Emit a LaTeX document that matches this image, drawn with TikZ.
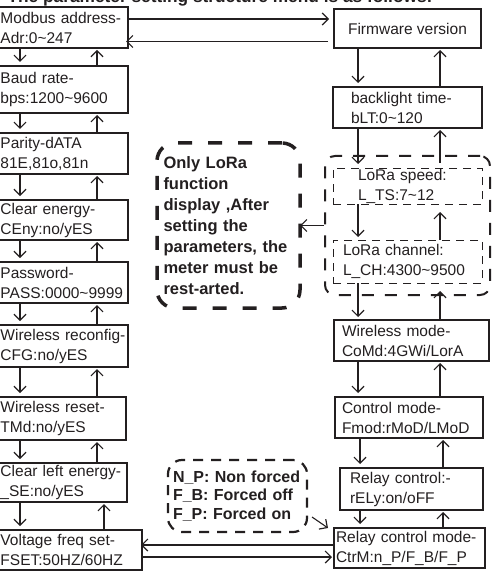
\documentclass[tikz,border=0pt]{standalone}
\usepackage{fontspec}
\setmainfont{Liberation Sans}
\usepackage{xcolor}
\usetikzlibrary{positioning, arrows.meta, fit, calc}
\definecolor{inkcolor}{RGB}{35,31,32}

\begin{document}
\begin{tikzpicture}[
    x=1pt, y=-1pt,
    font=\fontsize{15.5}{20}\selectfont,
    color=inkcolor,
    arrow/.style={-{Straight Barb[length=6pt,width=12pt,line width=1.2pt]}, line width=1.1pt},
    menubox/.style={
        draw,
        rectangle,
        line width=1.2pt,
        inner ysep=0pt,
        outer sep=0pt,
        align=left
    },
    leftbox/.style={menubox, text width=124pt, inner xsep=3.5pt},
    lorabox/.style={menubox, line width=0.9pt, dash pattern=on 8pt off 6pt},
    notebox/.style={
        rectangle,
        outer sep=0pt,
        inner ysep=0pt,
        align=left,
        font=\bfseries\fontsize{16.5}{21}\selectfont
    }
]

\useasboundingbox (0,0) rectangle (491,572);

% Title (cut off at the top)
\node (title) [anchor=base west, font=\bfseries\fontsize{17.3}{20}\selectfont] at (4,3)
    {The parameter setting structure menu is as follows:};

%% LEFT COLUMN %%
\node (adr) [leftbox, anchor=north west, minimum height=41pt] at (-3,7)
    {Modbus address-\\Adr:0\textasciitilde247};
\node (bps) [leftbox, below=18pt of adr, minimum height=47pt]
    {Baud rate-\\bps:1200\textasciitilde9600};
\node (par) [leftbox, below=20pt of bps, minimum height=41pt]
    {Parity-dATA\\81E,81o,81n};
\node (ceny) [leftbox, below=26pt of par, minimum height=40pt]
    {Clear energy-\\CEny:no/yES};
\node (pass) [leftbox, below=22pt of ceny, minimum height=41pt]
    {Password-\\PASS:0000\textasciitilde9999};
\node (rcfg) [leftbox, below=22pt of pass, minimum height=42pt]
    {\mbox{Wireless reconfig-}\\CFG:no/yES};
\node (rtmd) [leftbox, below=30pt of rcfg.south west, anchor=north west, minimum height=43pt, text width=122pt]
    {Wireless reset-\\TMd:no/yES};
\node (lse) [leftbox, below=23pt of rtmd.south west, anchor=north west, minimum height=39pt, text width=123pt]
    {\mbox{Clear left energy-}\\\_SE:no/yES};
\node (fset) [leftbox, below=28pt of lse.south west, anchor=north west, minimum height=40pt, text width=138pt]
    {Voltage freq set-\\FSET:50HZ/60HZ};

%% RIGHT COLUMN %%
\node (fw) [menubox, anchor=north west, minimum width=147pt, minimum height=39pt] at (334,9)
    {Firmware version};
\node (blt) [menubox, below=39pt of fw, minimum height=41pt, text width=113pt, inner xsep=18pt]
    {backlight time-\\bLT:0\textasciitilde120};
\node (lts) [lorabox, below=40pt of blt, minimum height=36pt, text width=99pt, inner xsep=25pt]
    {LoRa speed:\\L\_TS:7\textasciitilde12};
\node (lch) [lorabox, below=36pt of lts, minimum height=43pt, text width=129pt, inner xsep=10pt]
    {LoRa channel:\\L\_CH:4300\textasciitilde9500};
\node (lora) [
    rectangle,
    rounded corners=10pt,
    draw,
    line width=2pt,
    dash pattern=on 12pt off 11pt,
    fit=(lts)(lch),
    inner xsep=8pt,
    inner ysep=12pt
] {};
\node (comd) [menubox, below=37pt of lch, xshift=4pt, minimum height=41pt, text width=139pt, inner xsep=8pt]
    {Wireless mode-\\CoMd:4GWi/LorA};
\node (fmod) [menubox, below=36pt of comd, xshift=-2.5pt, minimum height=41pt, text width=134pt, inner xsep=7pt]
    {Control mode-\\Fmod:rMoD/LMoD};
\node (rely) [menubox, below=30pt of fmod, xshift=2.5pt, minimum height=42pt, text width=123pt, inner xsep=10pt]
    {Relay control:-\\rELy:on/oFF};
\node (ctrm) [menubox, below=18pt of rely, xshift=-2pt, minimum height=40pt, text width=147pt, inner xsep=2pt]
    {Relay control mode-\\CtrM:n\_P/F\_B/F\_P};

%% NOTES %%
\node (lnote) [
    notebox,
    anchor=north west,
    draw,
    line width=3.5pt,
    dash pattern=on 14pt off 16pt,
    rounded corners=18pt,
    text width=130pt,
    inner xsep=6.5pt,
    minimum height=165pt
] at (157,143)
    {Only LoRa\\function\\display ,After\\setting the\\parameters, the\\meter must be\\rest-arted.};

\node (fnote) [
    notebox,
    anchor=north west,
    draw,
    line width=2.2pt,
    dash pattern=on 10pt off 8pt,
    rounded corners=14pt,
    text width=129pt,
    inner xsep=5pt,
    minimum height=72pt,
    font=\bfseries\fontsize{16}{18.5}\selectfont
] at (168,460)
    {N\_P: Non forced\\F\_B: Forced off\\F\_P: Forced on};

%% helper positions %%
\coordinate (ldn) at (20,0);
\coordinate (lup) at (97,0);
\coordinate (rdn) at (358,0);
\coordinate (rup) at (440,0);
\coordinate (tophi) at (0,19);
\coordinate (toplo) at (0,41.5);
\coordinate (bothi) at (0,545);
\coordinate (botlo) at (0,557);

%% ARROWS %%
\draw [arrow, shorten >=5pt] (adr.east |- tophi) -- (fw.west |- tophi);
\draw [arrow, shorten <=6pt, shorten >=-2pt] (fw.west |- toplo) -- (adr.east |- toplo);

\draw [arrow, shorten >=4pt] (adr.south -| ldn) -- (bps.north -| ldn);
\draw [arrow, shorten >=2pt] (bps.north -| lup) -- (adr.south -| lup);
\draw [arrow, shorten >=4pt] (bps.south -| ldn) -- (par.north -| ldn);
\draw [arrow, shorten >=2pt] (par.north -| lup) -- (bps.south -| lup);
\draw [arrow, shorten >=4pt] (par.south -| ldn) -- (ceny.north -| ldn);
\draw [arrow, shorten >=2pt] (ceny.north -| lup) -- (par.south -| lup);
\draw [arrow, shorten >=4pt] (ceny.south -| ldn) -- (pass.north -| ldn);
\draw [arrow, shorten >=2pt] (pass.north -| lup) -- (ceny.south -| lup);
\draw [arrow, shorten >=4pt] (pass.south -| ldn) -- (rcfg.north -| ldn);
\draw [arrow, shorten >=2pt] (rcfg.north -| lup) -- (pass.south -| lup);
\draw [arrow, shorten >=4pt] (rcfg.south -| ldn) -- (rtmd.north -| ldn);
\draw [arrow, shorten >=2pt] (rtmd.north -| lup) -- (rcfg.south -| lup);
\draw [arrow, shorten >=4pt] (rtmd.south -| ldn) -- (lse.north -| ldn);
\draw [arrow, shorten >=2pt] (lse.north -| lup) -- (rtmd.south -| lup);
\draw [arrow, shorten >=4pt] (lse.south -| ldn) -- (fset.north -| ldn);
\draw [arrow, shorten >=2pt] ([xshift=7pt]fset.north -| lup) -- ([xshift=7pt]lse.south -| lup);

\draw [arrow, shorten >=4pt] (fw.south -| rdn) -- (blt.north -| rdn);
\draw [arrow, shorten >=2pt] (blt.north -| rup) -- (fw.south -| rup);
\draw [arrow, shorten >=4pt] (blt.south -| rdn) -- (lts.north -| rdn);
\draw [arrow, shorten >=2pt, shorten <=5pt] (lts.north -| rup) -- (blt.south -| rup);
\draw [arrow, shorten >=3pt] (lts.south -| rdn) -- (lch.north -| rdn);
\draw [arrow, shorten >=8pt] (lch.north -| rup) -- (lts.south -| rup);
\draw [arrow, shorten >=3pt] (lch.south -| rdn) -- (comd.north -| rdn);
\draw [arrow, shorten >=8pt] (comd.north -| rup) -- (lch.south -| rup);
\draw [arrow, shorten >=4pt] (comd.south -| rdn) -- (fmod.north -| rdn);
\draw [arrow, shorten >=2pt] (fmod.north -| rup) -- (comd.south -| rup);
\draw [arrow, shorten >=4pt] ([xshift=2pt]fmod.south -| rdn) -- ([xshift=2pt]rely.north -| rdn);
\draw [arrow, shorten >=2pt] ([xshift=3pt]rely.north -| rup) -- ([xshift=3pt]fmod.south -| rup);
\draw [arrow, shorten >=4pt] ([xshift=2pt]rely.south -| rdn) -- ([xshift=2pt]ctrm.north -| rdn);
\draw [arrow, shorten >=2pt] ([xshift=3pt]ctrm.north -| rup) -- ([xshift=3pt]rely.south -| rup);

\draw [arrow, shorten >=-1pt] (ctrm.west |- bothi) -- (fset.east |- bothi);
\draw [arrow, shorten >=2pt] (fset.east |- botlo) -- (ctrm.west |- botlo);

%% note arrows %%
\draw [arrow] (lora.west) -- (lora.west -| lnote.east);
\draw [arrow] ($(fnote.south east)+(5,-15)$) -- ($(ctrm.north west)+(-6,0)$);

\end{tikzpicture}
\end{document}
